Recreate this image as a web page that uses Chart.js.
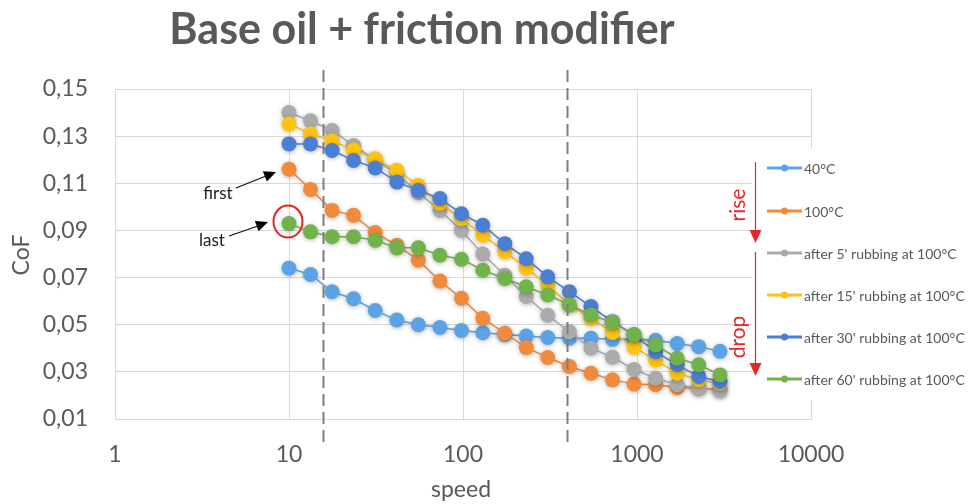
<!DOCTYPE html>
<html>
<head>
<meta charset="utf-8">
<script src="https://cdn.jsdelivr.net/npm/chart.js@4.4.1/dist/chart.umd.min.js"></script>
<style>
html,body{margin:0;padding:0;background:#fff;}
canvas{display:block;}
</style>
</head>
<body>
<canvas id="c" width="968" height="504"></canvas>
<script>
// ---- data ----
const speed = [10, 13.3, 17.7, 23.5, 31.3, 41.7, 55.4, 73.7, 98, 130, 174, 231, 307, 409, 544, 723, 962, 1280, 1703, 2265, 3000];
const cof40 = [0.074, 0.0713, 0.064, 0.061, 0.056, 0.052, 0.050, 0.0488, 0.0475, 0.0466, 0.0458, 0.0452, 0.0446, 0.0443, 0.0443, 0.0438, 0.0438, 0.0434, 0.042, 0.0407, 0.0387];
const cof100 = [0.116, 0.1074, 0.0985, 0.0964, 0.0891, 0.0837, 0.0774, 0.0685, 0.0612, 0.0527, 0.0464, 0.0403, 0.0361, 0.0323, 0.0294, 0.0266, 0.0248, 0.0245, 0.0234, 0.023, 0.0224];
const cofAfter5 = [0.140, 0.1365, 0.1324, 0.126, 0.120, 0.114, 0.106, 0.0985, 0.090, 0.080, 0.071, 0.062, 0.054, 0.047, 0.040, 0.0362, 0.031, 0.0273, 0.0245, 0.023, 0.022];
const cofAfter15 = [0.1352, 0.131, 0.128, 0.1242, 0.1204, 0.1155, 0.1091, 0.1015, 0.095, 0.088, 0.081, 0.074, 0.0668, 0.0584, 0.0527, 0.0467, 0.0404, 0.035, 0.0294, 0.0266, 0.0252];
const cofAfter30 = [0.1267, 0.1267, 0.1239, 0.1197, 0.1165, 0.1105, 0.107, 0.1035, 0.0971, 0.0922, 0.0844, 0.078, 0.0703, 0.064, 0.0577, 0.0513, 0.0457, 0.0385, 0.033, 0.028, 0.0259];
const cofAfter60 = [0.0929, 0.0894, 0.0873, 0.0873, 0.0858, 0.0826, 0.0826, 0.0795, 0.0778, 0.0731, 0.0696, 0.0661, 0.0626, 0.0584, 0.0541, 0.051, 0.0457, 0.0414, 0.0358, 0.033, 0.0287];
const seriesLabels = ["40°C", "100°C", "after 5' rubbing at 100°C", "after 15' rubbing at 100°C", "after 30' rubbing at 100°C", "after 60' rubbing at 100°C"];
const xTickValues = [1, 10, 100, 1000, 10000];
const yTickValues = [0.01, 0.03, 0.05, 0.07, 0.09, 0.11, 0.13, 0.15];
const regimeBoundaries = [15.6, 397];
const titleText = "Base oil + friction modifier";
const xTitle = "speed";
const yTitle = "CoF";

// ---- styling ----
const colors = ["#5BA3E6", "#F08A3C", "#ABABAB", "#FFC20E", "#4A7FD4", "#72B24A"];
const allSeries = [cof40, cof100, cofAfter5, cofAfter15, cofAfter30, cofAfter60];
const FONT = "Lato, 'Open Sans', sans-serif";
const GREY = "#595959";

const datasets = allSeries.map((arr, i) => ({
  label: seriesLabels[i],
  data: arr.map((v, k) => ({x: speed[k], y: v})),
  borderColor: colors[i],
  backgroundColor: colors[i],
  pointBackgroundColor: colors[i],
  pointBorderColor: colors[i],
  pointBorderWidth: 0,
  pointRadius: 7.5,
  borderWidth: 1.5,
  order: 5 - i,
  tension: 0
}));

const shadowPlugin = {
  id: 'shadow',
  beforeDatasetDraw(chart) {
    const ctx = chart.ctx;
    ctx.save();
    ctx.shadowColor = 'rgba(0,0,0,0.28)';
    ctx.shadowBlur = 5;
    ctx.shadowOffsetY = 1;
  },
  afterDatasetDraw(chart) { chart.ctx.restore(); }
};

function arrowHead(ctx, x0, y0, x1, y1, len, half, color) {
  const a = Math.atan2(y1 - y0, x1 - x0);
  ctx.save();
  ctx.fillStyle = color;
  ctx.beginPath();
  ctx.moveTo(x1, y1);
  ctx.lineTo(x1 - len * Math.cos(a) + half * Math.sin(a), y1 - len * Math.sin(a) - half * Math.cos(a));
  ctx.lineTo(x1 - len * Math.cos(a) - half * Math.sin(a), y1 - len * Math.sin(a) + half * Math.cos(a));
  ctx.closePath();
  ctx.fill();
  ctx.restore();
}

const annotPlugin = {
  id: 'annot',
  afterDraw(chart) {
    const ctx = chart.ctx;
    const xs = chart.scales.x, ys = chart.scales.y;
    // dashed regime boundaries
    ctx.save();
    ctx.strokeStyle = '#7F7F7F';
    ctx.lineWidth = 2;
    ctx.setLineDash([12, 6]);
    regimeBoundaries.forEach(v => {
      const px = Math.round(xs.getPixelForValue(v)) + 0.5;
      ctx.beginPath(); ctx.moveTo(px, 70); ctx.lineTo(px, 442); ctx.stroke();
    });
    ctx.restore();

    // legend box
    ctx.save();
    ctx.fillStyle = '#fff';
    ctx.fillRect(752, 148, 216, 252);
    ctx.restore();

    // legend entries
    const ly = [168, 211, 253, 295, 337, 379];
    ctx.save();
    ctx.font = "14px " + FONT;
    ctx.textBaseline = 'middle';
    ctx.textAlign = 'left';
    seriesLabels.forEach((lab, i) => {
      ctx.strokeStyle = colors[i];
      ctx.lineWidth = 3;
      ctx.beginPath(); ctx.moveTo(767, ly[i]); ctx.lineTo(802, ly[i]); ctx.stroke();
      ctx.fillStyle = colors[i];
      ctx.beginPath(); ctx.arc(784.5, ly[i], 3.5, 0, Math.PI * 2); ctx.fill();
      ctx.fillStyle = GREY;
      ctx.fillText(lab, 804, ly[i] + 1);
    });
    ctx.restore();

    // rise / drop arrows
    const RED = '#E8262A';
    ctx.save();
    ctx.strokeStyle = RED;
    ctx.lineWidth = 1.2;
    ctx.beginPath(); ctx.moveTo(755.5, 162); ctx.lineTo(755.5, 232); ctx.stroke();
    arrowHead(ctx, 755.5, 162, 755.5, 243, 13, 6, RED);
    ctx.beginPath(); ctx.moveTo(755.5, 252); ctx.lineTo(755.5, 365); ctx.stroke();
    arrowHead(ctx, 755.5, 252, 755.5, 376, 13, 6, RED);
    ctx.fillStyle = RED;
    ctx.font = "21px " + FONT;
    ctx.textAlign = 'center';
    ctx.textBaseline = 'middle';
    ctx.save(); ctx.translate(738, 205); ctx.rotate(-Math.PI / 2); ctx.fillText('rise', 0, 0); ctx.restore();
    ctx.save(); ctx.translate(738, 337); ctx.rotate(-Math.PI / 2); ctx.fillText('drop', 0, 0); ctx.restore();
    ctx.restore();

    // first / last labels
    ctx.save();
    ctx.fillStyle = '#222';
    ctx.font = "17px " + FONT;
    ctx.textAlign = 'center';
    ctx.textBaseline = 'middle';
    ctx.fillText('first', 218, 194);
    ctx.fillText('last', 212, 241);
    ctx.strokeStyle = '#111';
    ctx.lineWidth = 1.2;
    ctx.beginPath(); ctx.moveTo(236, 188); ctx.lineTo(266, 176); ctx.stroke();
    arrowHead(ctx, 236, 188, 276, 172, 12, 5.5, '#000');
    ctx.beginPath(); ctx.moveTo(229, 236); ctx.lineTo(258, 226); ctx.stroke();
    arrowHead(ctx, 229, 236, 268, 222, 12, 5.5, '#000');
    ctx.restore();

    // red circle around last first-point
    const cx = xs.getPixelForValue(speed[0]), cy = ys.getPixelForValue(cofAfter60[0]);
    ctx.save();
    ctx.strokeStyle = '#E02424';
    ctx.lineWidth = 2;
    ctx.beginPath(); ctx.ellipse(cx - 1, cy - 2, 14.5, 16, 0, 0, Math.PI * 2); ctx.stroke();
    ctx.restore();

    // titles
    ctx.save();
    ctx.fillStyle = GREY;
    ctx.textAlign = 'center';
    ctx.textBaseline = 'alphabetic';
    ctx.font = "bold 43px " + FONT;
    ctx.fillText(titleText, 422, 44);
    ctx.textBaseline = 'middle';
    ctx.font = "23px " + FONT;
    ctx.fillText(xTitle, 461, 490);
    ctx.textBaseline = 'alphabetic';
    ctx.save(); ctx.translate(29, 255); ctx.rotate(-Math.PI / 2); ctx.fillText(yTitle, 0, 0); ctx.restore();
    ctx.restore();
  }
};

new Chart(document.getElementById('c'), {
  type: 'line',
  data: { datasets },
  options: {
    responsive: false,
    animation: false,
    devicePixelRatio: 1,
    layout: { padding: { left: 0, right: 157, top: 89, bottom: 0 } },
    plugins: { legend: { display: false }, title: { display: false }, tooltip: { enabled: false } },
    scales: {
      x: {
        type: 'logarithmic',
        min: 1, max: 10000,
        afterBuildTicks: s => { s.ticks = xTickValues.map(v => ({ value: v })); },
        afterFit: s => { s.height = 85; },
        grid: { color: '#D9D9D9', lineWidth: 1, drawTicks: false },
        border: { display: true, color: '#D9D9D9' },
        ticks: {
          padding: 22,
          color: GREY,
          font: { family: FONT, size: 23 },
          maxRotation: 0,
          autoSkip: false,
          callback: v => String(v)
        }
      },
      y: {
        min: 0.01, max: 0.15,
        afterBuildTicks: s => { s.ticks = yTickValues.map(v => ({ value: v })); },
        afterFit: s => { s.width = 115; },
        grid: { color: '#D9D9D9', lineWidth: 1, drawTicks: false },
        border: { display: true, color: '#D9D9D9' },
        ticks: {
          padding: 27,
          color: GREY,
          font: { family: FONT, size: 23 },
          callback: v => v.toFixed(2).replace('.', ',')
        }
      }
    }
  },
  plugins: [shadowPlugin, annotPlugin]
});
</script>
</body>
</html>
